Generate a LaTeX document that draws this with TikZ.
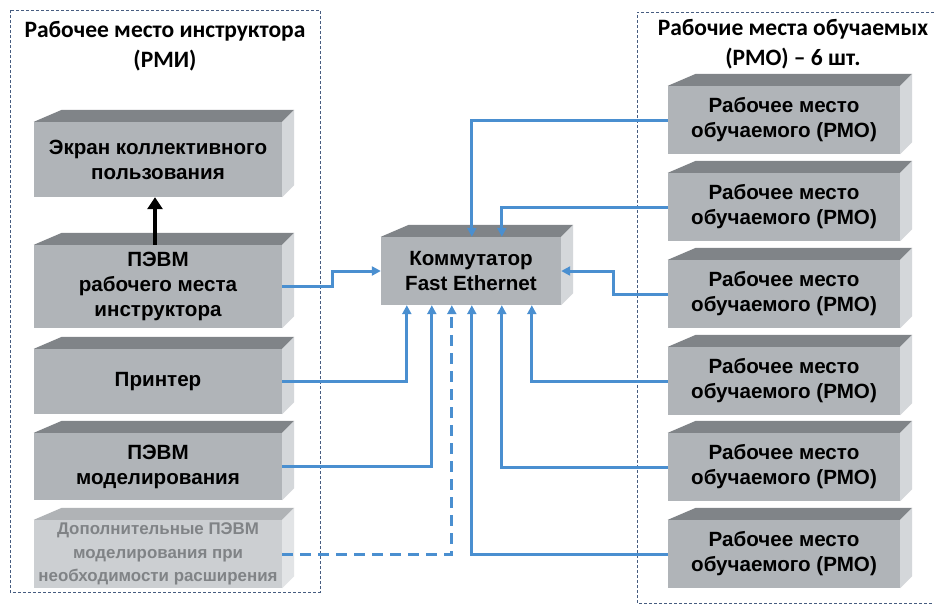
\documentclass[tikz,border=0pt]{standalone}
\usepackage{fontspec}
\setmainfont{Liberation Sans}
\newfontfamily\headfont{Carlito}
\usetikzlibrary{arrows.meta,calc}

\definecolor{facefront}{RGB}{176,180,184}
\definecolor{facetop}{RGB}{128,132,136}
\definecolor{faceside}{RGB}{212,215,218}
\definecolor{palefront}{RGB}{204,207,210}
\definecolor{paletop}{RGB}{176,179,182}
\definecolor{paleside}{RGB}{226,228,230}
\definecolor{paletext}{RGB}{128,131,134}
\definecolor{netblue}{RGB}{74,143,208}
\definecolor{framecol}{RGB}{70,92,128}

\newcommand{\boxfont}{\bfseries\fontsize{20.6}{25}\selectfont}
\newcommand{\palefont}{\bfseries\fontsize{16.9}{23.5}\selectfont}
\newcommand{\titlefont}{\headfont\bfseries\fontsize{23.5}{29.5}\selectfont}

% top and right faces of a bevelled block drawn behind its front node
\newcommand{\blockfaces}[3]{%
  \fill[#2] (#1.north west) -- ++(28,-12) -- ($(#1.north east)+(12,-12)$)
            -- (#1.north east) -- cycle;
  \fill[#3] (#1.north east) -- ++(12,-12) -- ($(#1.south east)+(12,-12)$)
            -- (#1.south east) -- cycle;}

\begin{document}
\begin{tikzpicture}[x=1pt,y=-1pt,
  facebox/.style={fill=facefront, inner sep=0pt, align=center, font=\boxfont, text=black},
  leftbox/.style={facebox, minimum width=248pt},
  rmobox/.style={facebox, minimum width=232pt, minimum height=68pt},
  link/.style={draw=netblue, line width=3pt, -{Triangle[length=9pt,width=9pt]}},
  dashlink/.style={link, dash pattern=on 11pt off 7pt},
  frameline/.style={draw=framecol, line width=0.9pt, dash pattern=on 3pt off 2pt},
]
\useasboundingbox (0,0) rectangle (934,605);
\fill[white] (0,0) rectangle (934,605);

% group frames
\draw[frameline] (10,10) rectangle (320,592);
\draw[frameline] (934,12) -- (637,12) -- (637,603) -- (934,603);

\node[font=\titlefont, align=center] (ttlL) at (165,46) {Рабочее место инструктора\\(РМИ)};
\node[font=\titlefont, align=center] (ttlR) at (793,44) {Рабочие места обучаемых\\(РМО) – 6 шт.};

% instructor workstation blocks
\node[leftbox, minimum height=75pt] (screen) at (158,159.5) {Экран коллективного\\пользования};
\node[leftbox, minimum height=83pt] (pevm) at (158,286.5) {ПЭВМ\\рабочего места\\инструктора};
\node[leftbox, minimum height=65pt] (printer) at (158,381.5) {Принтер};
\node[leftbox, minimum height=67pt] (model) at (158,466.5) {ПЭВМ\\моделирования};
\node[leftbox, minimum height=68pt, fill=palefront, font=\palefont, text=paletext] (extra) at (158,554) {Дополнительные ПЭВМ\\моделирования при\\необходимости расширения};

% switch
\node[facebox, minimum width=180pt, minimum height=68pt] (sw) at (471,271) {Коммутатор\\Fast Ethernet};

% trainee workstations
\node[rmobox] (r1) at (784,120) {Рабочее место\\обучаемого (РМО)};
\node[rmobox] (r2) at (784,207) {Рабочее место\\обучаемого (РМО)};
\node[rmobox] (r3) at (784,294) {Рабочее место\\обучаемого (РМО)};
\node[rmobox] (r4) at (784,381) {Рабочее место\\обучаемого (РМО)};
\node[rmobox] (r5) at (784,467) {Рабочее место\\обучаемого (РМО)};
\node[rmobox] (r6) at (784,554) {Рабочее место\\обучаемого (РМО)};

\foreach \b in {screen,pevm,printer,model,sw,r1,r2,r3,r4,r5,r6}{\blockfaces{\b}{facetop}{faceside}}
\blockfaces{extra}{paletop}{paleside}

% PC to shared screen
\draw[black, line width=4pt, -{Triangle[length=12pt,width=15pt]}] ($(pevm.north)+(-3,0)$) -- ($(screen.south)+(-3,0)$);

% network links into the switch
\draw[link] (pevm.east) -- ++(50,0) |- (sw.west);
\draw[link] (printer.east) -| ($(sw.south west)+(26,0)$);
\draw[link] (model.east) -| ($(sw.south west)+(51,0)$);
\draw[dashlink] (extra.east) -| ($(sw.south west)+(71,0)$);
\draw[link] (r6.west) -| ($(sw.south west)+(91,0)$);
\draw[link] (r5.west) -| ($(sw.south west)+(121,0)$);
\draw[link] (r4.west) -| ($(sw.south west)+(151,0)$);
\draw[link] (r3.west) -- ++(-54,0) |- (sw.east);
\draw[link] (r2.west) -| ($(sw.north west)+(121,0)$);
\draw[link] (r1.west) -| ($(sw.north west)+(91,0)$);
\end{tikzpicture}
\end{document}
